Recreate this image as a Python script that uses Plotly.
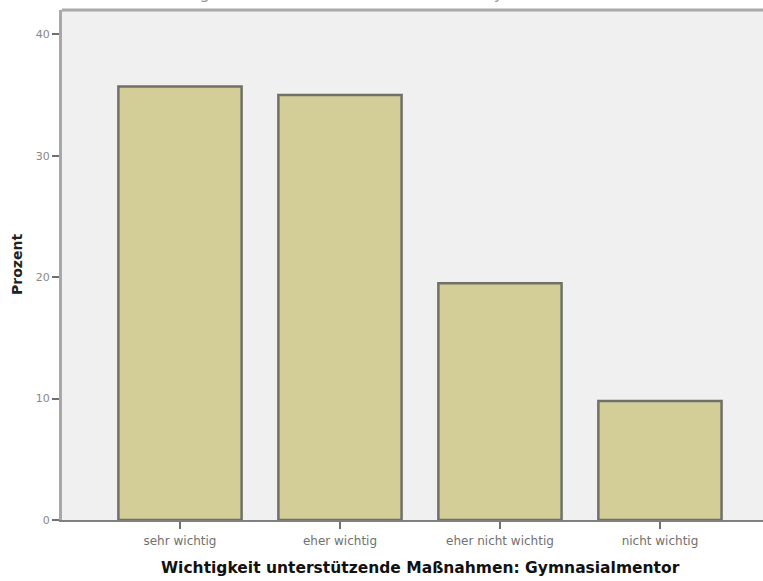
import plotly.graph_objects as go

categories = ["sehr wichtig", "eher wichtig", "eher nicht wichtig", "nicht wichtig"]
prozent = [35.7, 35.0, 19.5, 9.8]
y_ticks = [0, 10, 20, 30, 40]
title_text = "Wichtigkeit unterstützende Maßnahmen: Gymnasialmentor"
x_title = "Wichtigkeit unterstützende Maßnahmen: Gymnasialmentor"
y_title = "Prozent"

FONT = "DejaVu Sans, Liberation Sans, sans-serif"

fig = go.Figure()
fig.add_trace(go.Bar(
    x=list(range(len(categories))),
    y=prozent,
    width=0.77,
    marker=dict(color="#d3ce97", line=dict(color="#707068", width=2.5)),
    hoverinfo="skip",
))

fig.update_layout(
    width=763, height=581,
    margin=dict(l=62, r=0, t=10, b=61),
    paper_bgcolor="white",
    plot_bgcolor="#f0f0f0",
    showlegend=False,
    font=dict(family=FONT, color="#555555"),
    xaxis=dict(
        range=[-0.7375, 3.644],
        tickvals=list(range(len(categories))),
        ticktext=categories,
        ticks="outside", ticklen=7, tickwidth=1.5, tickcolor="#707070",
        ticklabelstandoff=2,
        tickfont=dict(size=12, color="#707070"),
        showgrid=False, zeroline=False,
        showline=True, linecolor="#808080", linewidth=2,
    ),
    yaxis=dict(
        range=[0, 42],
        tickvals=y_ticks,
        ticks="outside", ticklen=7, tickwidth=1.5, tickcolor="#707070",
        tickfont=dict(size=11, color="#888888"),
        showgrid=False, zeroline=False,
        showline=True, linecolor="#a8a8a8", linewidth=3,
    ),
    shapes=[
        dict(type="line", xref="paper", yref="paper", x0=0, x1=1, y0=1, y1=1,
             line=dict(color="#a8a8a8", width=3)),
    ],
    annotations=[
        dict(text=title_text, xref="paper", yref="paper", x=0.464, y=1,
             xanchor="center", yanchor="bottom", yshift=5, showarrow=False,
             font=dict(size=16, color="#999999")),
        dict(text="<b>" + x_title + "</b>", xref="paper", yref="paper", x=0.511, y=0,
             xanchor="center", yanchor="middle", yshift=-48, showarrow=False,
             font=dict(size=15.5, color="#111111")),
        dict(text="<b>" + y_title + "</b>", xref="paper", yref="paper", x=0, y=0.5,
             xanchor="center", yanchor="middle", xshift=-45, showarrow=False,
             textangle=-90, font=dict(size=14, color="#222222")),
    ],
)

fig.write_html("out.html", config={"displayModeBar": False},
               post_script="document.body.style.margin='0';")
